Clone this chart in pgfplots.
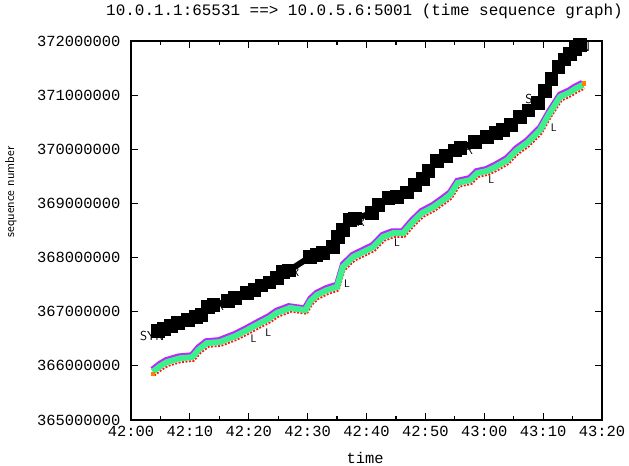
\documentclass[border=0pt]{standalone}
\usepackage{fontspec}
\setmainfont{Liberation Sans}
\setmonofont{Liberation Mono}
\usepackage{pgfplots}
\pgfplotsset{compat=1.18}
\definecolor{ackgreen}{RGB}{60,240,140}
\definecolor{sackpurple}{RGB}{185,40,255}
\definecolor{dupred}{RGB}{255,20,20}
\definecolor{wincyan}{RGB}{40,230,230}
\newcommand{\mono}{\fontsize{15.5}{16}\selectfont\ttfamily}
\newcommand{\lab}{\fontsize{13}{13}\selectfont\sffamily}
\pgfplotstableread{
t v
3.7 365.89
5.0 366.00
6.1 366.07
8.3 366.14
10.4 366.16
11.5 366.30
12.9 366.42
15.1 366.44
16.5 366.50
17.7 366.55
19.7 366.66
21.9 366.79
23.5 366.88
24.8 366.98
27.0 367.07
29.6 367.03
30.5 367.20
31.6 367.31
33.3 367.40
35.0 367.46
36.0 367.83
37.7 368.01
39.4 368.10
41.1 368.19
42.8 368.38
44.5 368.45
46.2 368.45
47.7 368.64
49.4 368.82
51.3 368.93
53.0 369.06
54.2 369.16
55.5 369.38
57.6 369.43
58.8 369.56
60.5 369.60
62.0 369.68
63.9 369.80
65.5 369.98
67.3 370.12
68.5 370.25
69.5 370.36
71.0 370.65
72.9 370.97
74.5 371.05
75.5 371.12
76.8 371.19
}\acks
\pgfplotstableread{
t v
4.6 366.64
5.6 366.68
6.8 366.74
8.0 366.79
9.7 366.85
11.0 366.90
12.0 366.94
13.1 367.09
14.0 367.12
16.5 367.20
17.7 367.25
19.7 367.35
21.0 367.40
22.2 367.48
23.5 367.54
24.8 367.62
25.8 367.73
26.8 367.76
30.4 368.01
31.5 368.05
32.6 368.08
34.3 368.20
35.2 368.38
36.0 368.51
37.2 368.69
38.0 368.72
40.9 368.82
42.0 368.97
43.7 369.10
45.2 369.12
46.9 369.20
48.2 369.34
49.6 369.45
50.5 369.60
52.0 369.78
53.5 369.88
55.0 369.98
56.0 370.02
58.4 370.13
60.5 370.23
62.0 370.30
63.2 370.36
64.5 370.45
66.1 370.60
67.5 370.72
69.1 370.85
70.3 371.08
71.4 371.30
72.6 371.52
73.6 371.66
74.6 371.76
75.5 371.85
76.3 371.93
}\segs
\begin{document}
\begin{tikzpicture}
\begin{axis}[
  scale only axis,
  width=471bp, height=379bp,
  xmin=0, xmax=80, ymin=365, ymax=372,
  axis line style={line width=1.2pt},
  xtick={0,10,...,80},
  xticklabels={42:00,42:10,42:20,42:30,42:40,42:50,43:00,43:10,43:20},
  minor xtick={5,15,...,75},
  ytick={365,366,...,372},
  yticklabels={365000000,366000000,367000000,368000000,369000000,370000000,371000000,372000000},
  tick align=inside,
  major tick length=7bp, minor tick length=4bp,
  tick style={black, line width=1.2pt},
  ticklabel style={font=\mono},
  yticklabel style={xshift=-7bp},
  xticklabel style={yshift=-3bp},
  title={10.0.1.1:65531 ==> 10.0.5.6:5001 (time sequence graph)},
  title style={font=\fontsize{16}{16}\selectfont\ttfamily, at={(axis description cs:0.4958,1.0633)}, anchor=center},
  xlabel={time},
  xlabel style={font=\mono, at={(axis description cs:0.497,-0.100)}, anchor=center},
  ylabel={sequence number},
  ylabel style={font=\fontsize{13}{13}\selectfont\sffamily, at={(axis description cs:-0.2548,0.6016)}, anchor=center},
  clip=false,
]
% tick marks on all four sides
\pgfplotsinvokeforeach{10,20,...,70}{
  \draw[black, line width=1.2pt] (axis cs:#1,365) -- ++(0pt,7bp);
  \draw[black, line width=1.2pt] (axis cs:#1,372) -- ++(0pt,-7bp);
}
\pgfplotsinvokeforeach{5,15,...,75}{
  \draw[black, line width=1.2pt] (axis cs:#1,365) -- ++(0pt,4bp);
  \draw[black, line width=1.2pt] (axis cs:#1,372) -- ++(0pt,-4bp);
}
\pgfplotsinvokeforeach{366,367,...,371}{
  \draw[black, line width=1.2pt] (axis cs:0,#1) -- ++(7bp,0pt);
  \draw[black, line width=1.2pt] (axis cs:80,#1) -- ++(-7bp,0pt);
}
% annotation labels
\node[font=\lab, anchor=center] at (axis cs:3.6,366.55) {SYN};
\node[font=\lab, anchor=center] at (axis cs:76.3,371.88) {FIN};
\node[font=\lab] at (axis cs:15.1,367.10) {R};
\node[font=\lab] at (axis cs:27.2,367.74) {RR};
\node[font=\lab] at (axis cs:57.4,369.98) {R};
\node[font=\lab] at (axis cs:67.6,370.92) {S};
\node[font=\lab] at (axis cs:39.0,368.66) {R};
% data segments
\addplot[black, line width=6pt, mark=square*, mark size=3.8pt, mark options={solid}] table[x=t,y=v] {\segs};
% cyan window line
\addplot[wincyan, line width=1pt, yshift=-2pt] table[x=t,y=v] {\acks};
% purple upper edge
\addplot[sackpurple, line width=2.5pt, yshift=3.6pt, xshift=-1.5pt] table[x=t,y=v] {\acks};
% red lower edge
\addplot[dupred, line width=1.8pt, yshift=-3.8pt, xshift=1.5pt, dash pattern=on 2pt off 1.5pt] table[x=t,y=v] {\acks};
% green ack band
\addplot[ackgreen, line width=6pt] table[x=t,y=v] {\acks};
% start/end markers
\addplot[only marks, mark=square*, mark size=1.6pt, color=orange] coordinates {(3.7,365.85)(76.9,371.22)};
% L labels
\node[font=\fontsize{11}{11}\selectfont\sffamily] at (axis cs:20.8,366.50) {L};
\node[font=\fontsize{11}{11}\selectfont\sffamily] at (axis cs:23.3,366.61) {L};
\node[font=\fontsize{11}{11}\selectfont\sffamily] at (axis cs:36.7,367.52) {L};
\node[font=\fontsize{11}{11}\selectfont\sffamily] at (axis cs:45.2,368.27) {L};
\node[font=\fontsize{11}{11}\selectfont\sffamily] at (axis cs:61.2,369.43) {L};
\node[font=\fontsize{11}{11}\selectfont\sffamily] at (axis cs:71.8,370.40) {L};
\end{axis}
\pgfresetboundingbox
\path ([shift={(-131bp,-46bp)}]current axis.south west) rectangle ([shift={(27bp,41bp)}]current axis.north east);
\end{tikzpicture}
\end{document}
